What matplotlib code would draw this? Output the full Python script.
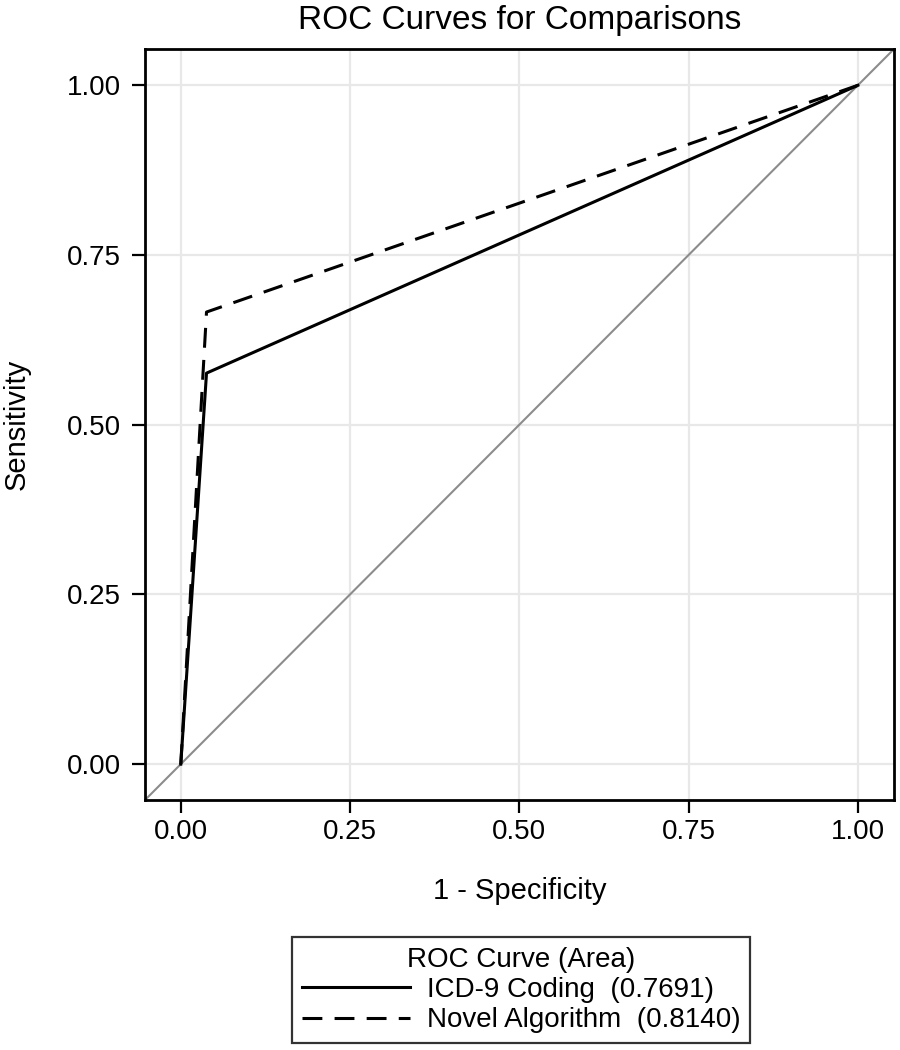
import matplotlib.pyplot as plt
import numpy as np

plt.rcParams['font.family'] = ['Liberation Sans', 'DejaVu Sans']

# ROC points (1 - specificity, sensitivity)
icd9_fpr = [0.0, 0.038, 1.0]
icd9_tpr = [0.0, 0.576, 1.0]
novel_fpr = [0.0, 0.038, 1.0]
novel_tpr = [0.0, 0.666, 1.0]
labels = ['ICD-9 Coding  (0.7691)', 'Novel Algorithm  (0.8140)']
ticks = [0.0, 0.25, 0.5, 0.75, 1.0]


def main():
    fig = plt.figure(figsize=(9, 10.5), dpi=100)
    ax = fig.add_axes([0.161, 0.238, 0.832, 0.715])

    lim = (-0.053, 1.053)
    ax.plot(lim, lim, color='#8c8c8c', lw=1.5, zorder=2)
    l1, = ax.plot(icd9_fpr, icd9_tpr, color='black', lw=2.2, zorder=3)
    l2, = ax.plot(novel_fpr, novel_tpr, color='black', lw=2.2,
                  dashes=(6.5, 4), zorder=3)

    ax.set_xlim(lim)
    ax.set_ylim(lim)
    ax.set_xticks(ticks)
    ax.set_yticks(ticks)
    ax.set_xticklabels([f"{t:.2f}" for t in ticks])
    ax.set_yticklabels([f"{t:.2f}" for t in ticks])
    ax.tick_params(labelsize=20, length=9.5, width=1.6, direction='out')
    ax.tick_params(axis='x', pad=4)
    ax.tick_params(axis='y', pad=8)
    ax.grid(True, color='#e8e8e8', lw=1.6)
    ax.set_axisbelow(True)
    for s in ax.spines.values():
        s.set_linewidth(2)

    ax.set_title("ROC Curves for Comparisons", fontsize=24, pad=15)
    ax.set_xlabel("1 - Specificity", fontsize=21, labelpad=23)
    ax.set_ylabel("Sensitivity", fontsize=21, labelpad=26)

    leg = fig.legend([l1, l2], labels, title="ROC Curve (Area)",
                     loc='center', bbox_to_anchor=(0.579, 0.057),
                     fontsize=20, title_fontsize=20, frameon=True,
                     fancybox=False, edgecolor='black', handlelength=3.9,
                     borderpad=0.35, labelspacing=0.15, handletextpad=0.6,
                     borderaxespad=0)
    leg.get_frame().set_linewidth(1.6)

    plt.savefig("out.png", dpi=100)
    plt.close()


if __name__ == "__main__":
    main()
